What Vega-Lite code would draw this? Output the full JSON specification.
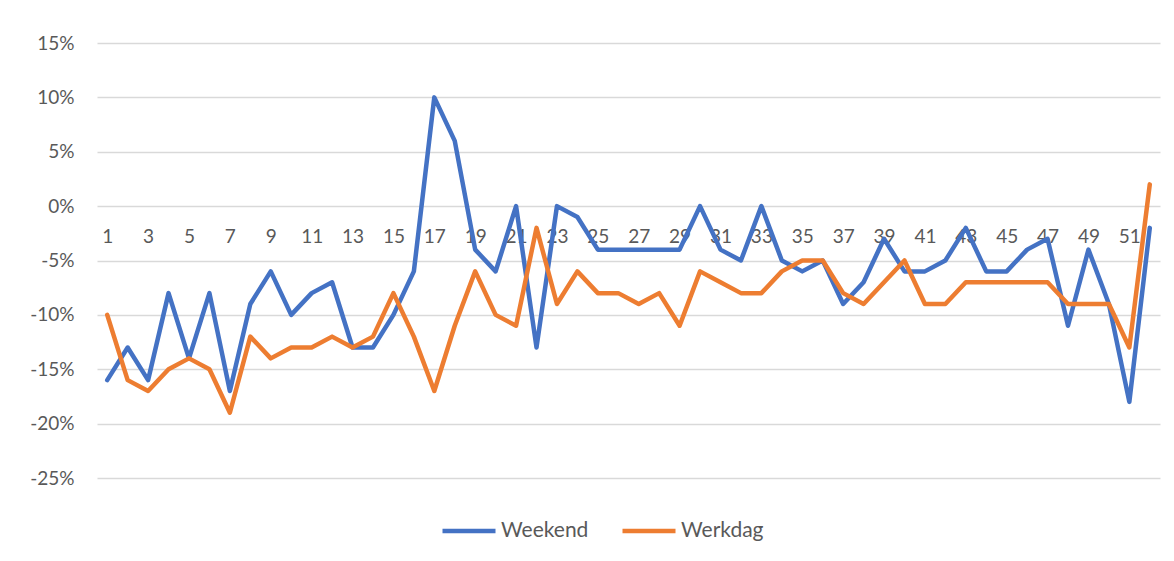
{
  "$schema": "https://vega.github.io/schema/vega-lite/v6.json",
  "width": 1063,
  "height": 435,
  "autosize": {"type": "none"},
  "padding": {"left": 97, "top": 43, "right": 14, "bottom": 83},
  "background": "white",
  "config": {
    "view": {"stroke": null},
    "font": "Lato"
  },
  "data": {"values": [
    {"week":1,"series":"Weekend","value":-16},{"week":2,"series":"Weekend","value":-13},{"week":3,"series":"Weekend","value":-16},{"week":4,"series":"Weekend","value":-8},{"week":5,"series":"Weekend","value":-14},{"week":6,"series":"Weekend","value":-8},{"week":7,"series":"Weekend","value":-17},{"week":8,"series":"Weekend","value":-9},{"week":9,"series":"Weekend","value":-6},{"week":10,"series":"Weekend","value":-10},
    {"week":11,"series":"Weekend","value":-8},{"week":12,"series":"Weekend","value":-7},{"week":13,"series":"Weekend","value":-13},{"week":14,"series":"Weekend","value":-13},{"week":15,"series":"Weekend","value":-10},{"week":16,"series":"Weekend","value":-6},{"week":17,"series":"Weekend","value":10},{"week":18,"series":"Weekend","value":6},{"week":19,"series":"Weekend","value":-4},{"week":20,"series":"Weekend","value":-6},
    {"week":21,"series":"Weekend","value":0},{"week":22,"series":"Weekend","value":-13},{"week":23,"series":"Weekend","value":0},{"week":24,"series":"Weekend","value":-1},{"week":25,"series":"Weekend","value":-4},{"week":26,"series":"Weekend","value":-4},{"week":27,"series":"Weekend","value":-4},{"week":28,"series":"Weekend","value":-4},{"week":29,"series":"Weekend","value":-4},{"week":30,"series":"Weekend","value":0},
    {"week":31,"series":"Weekend","value":-4},{"week":32,"series":"Weekend","value":-5},{"week":33,"series":"Weekend","value":0},{"week":34,"series":"Weekend","value":-5},{"week":35,"series":"Weekend","value":-6},{"week":36,"series":"Weekend","value":-5},{"week":37,"series":"Weekend","value":-9},{"week":38,"series":"Weekend","value":-7},{"week":39,"series":"Weekend","value":-3},{"week":40,"series":"Weekend","value":-6},
    {"week":41,"series":"Weekend","value":-6},{"week":42,"series":"Weekend","value":-5},{"week":43,"series":"Weekend","value":-2},{"week":44,"series":"Weekend","value":-6},{"week":45,"series":"Weekend","value":-6},{"week":46,"series":"Weekend","value":-4},{"week":47,"series":"Weekend","value":-3},{"week":48,"series":"Weekend","value":-11},{"week":49,"series":"Weekend","value":-4},{"week":50,"series":"Weekend","value":-9},
    {"week":51,"series":"Weekend","value":-18},{"week":52,"series":"Weekend","value":-2},
    {"week":1,"series":"Werkdag","value":-10},{"week":2,"series":"Werkdag","value":-16},{"week":3,"series":"Werkdag","value":-17},{"week":4,"series":"Werkdag","value":-15},{"week":5,"series":"Werkdag","value":-14},{"week":6,"series":"Werkdag","value":-15},{"week":7,"series":"Werkdag","value":-19},{"week":8,"series":"Werkdag","value":-12},{"week":9,"series":"Werkdag","value":-14},{"week":10,"series":"Werkdag","value":-13},
    {"week":11,"series":"Werkdag","value":-13},{"week":12,"series":"Werkdag","value":-12},{"week":13,"series":"Werkdag","value":-13},{"week":14,"series":"Werkdag","value":-12},{"week":15,"series":"Werkdag","value":-8},{"week":16,"series":"Werkdag","value":-12},{"week":17,"series":"Werkdag","value":-17},{"week":18,"series":"Werkdag","value":-11},{"week":19,"series":"Werkdag","value":-6},{"week":20,"series":"Werkdag","value":-10},
    {"week":21,"series":"Werkdag","value":-11},{"week":22,"series":"Werkdag","value":-2},{"week":23,"series":"Werkdag","value":-9},{"week":24,"series":"Werkdag","value":-6},{"week":25,"series":"Werkdag","value":-8},{"week":26,"series":"Werkdag","value":-8},{"week":27,"series":"Werkdag","value":-9},{"week":28,"series":"Werkdag","value":-8},{"week":29,"series":"Werkdag","value":-11},{"week":30,"series":"Werkdag","value":-6},
    {"week":31,"series":"Werkdag","value":-7},{"week":32,"series":"Werkdag","value":-8},{"week":33,"series":"Werkdag","value":-8},{"week":34,"series":"Werkdag","value":-6},{"week":35,"series":"Werkdag","value":-5},{"week":36,"series":"Werkdag","value":-5},{"week":37,"series":"Werkdag","value":-8},{"week":38,"series":"Werkdag","value":-9},{"week":39,"series":"Werkdag","value":-7},{"week":40,"series":"Werkdag","value":-5},
    {"week":41,"series":"Werkdag","value":-9},{"week":42,"series":"Werkdag","value":-9},{"week":43,"series":"Werkdag","value":-7},{"week":44,"series":"Werkdag","value":-7},{"week":45,"series":"Werkdag","value":-7},{"week":46,"series":"Werkdag","value":-7},{"week":47,"series":"Werkdag","value":-7},{"week":48,"series":"Werkdag","value":-9},{"week":49,"series":"Werkdag","value":-9},{"week":50,"series":"Werkdag","value":-9},
    {"week":51,"series":"Werkdag","value":-13},{"week":52,"series":"Werkdag","value":2}
  ]},
  "mark": {"type": "line", "strokeWidth": 4.5, "strokeJoin": "round", "strokeCap": "round"},
  "encoding": {
    "x": {
      "field": "week", "type": "ordinal",
      "scale": {"type": "point", "padding": 0.5},
      "axis": {
        "title": null, "domain": false, "ticks": false, "grid": false,
        "labelAngle": 0, "offset": -272, "labelPadding": 21,
        "values": [1,3,5,7,9,11,13,15,17,19,21,23,25,27,29,31,33,35,37,39,41,43,45,47,49,51],
        "labelFont": "Lato", "labelFontSize": 19, "labelColor": "#595959"
      }
    },
    "y": {
      "field": "value", "type": "quantitative",
      "scale": {"domain": [-25, 15], "nice": false, "zero": false},
      "axis": {
        "title": null, "domain": false, "ticks": false,
        "values": [-25,-20,-15,-10,-5,0,5,10,15],
        "labelExpr": "datum.value + '%'",
        "labelPadding": 23, "labelFont": "Lato", "labelFontSize": 19, "labelColor": "#595959",
        "gridColor": "#D9D9D9", "gridWidth": 1.5
      }
    },
    "color": {
      "field": "series", "type": "nominal",
      "scale": {"domain": ["Weekend", "Werkdag"], "range": ["#4472C4", "#ED7D31"]},
      "legend": {
        "title": null, "orient": "none", "direction": "horizontal",
        "legendX": 343, "legendY": 459,
        "symbolType": "stroke", "symbolSize": 2809, "symbolStrokeWidth": 4.5,
        "labelFont": "Lato", "labelFontSize": 21, "labelColor": "#595959",
        "labelOffset": 3, "columnPadding": 24
      }
    }
  }
}
